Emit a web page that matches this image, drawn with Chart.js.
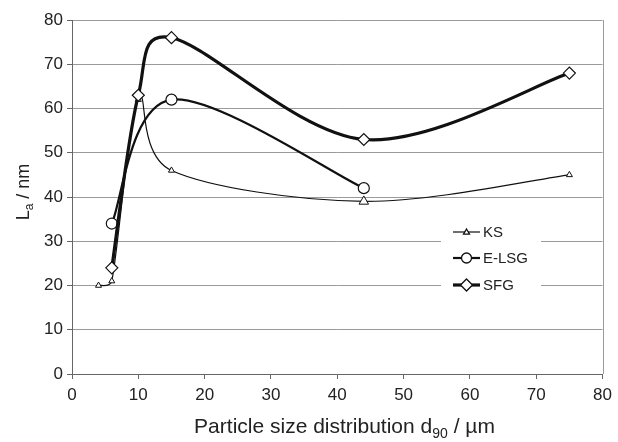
<!DOCTYPE html>
<html><head><meta charset="utf-8">
<script src="https://cdn.jsdelivr.net/npm/chart.js@4/dist/chart.umd.min.js"></script>
<style>html,body{margin:0;padding:0;background:#fff}#wrap{width:618px;height:442px;position:relative}</style>
</head><body><div id="wrap"><canvas id="c" width="618" height="442"></canvas></div>
<script>
const seriesNames = ['KS', 'E-LSG', 'SFG'];
const ksX = [4, 6, 10, 15, 44, 75];
const ksY = [20, 21, 62, 46, 39, 45];
const elsgX = [6, 15, 44];
const elsgY = [34, 62, 42];
const sfgX = [6, 10, 15, 44, 75];
const sfgY = [24, 63, 76, 53, 68];
const xTicks = [0, 10, 20, 30, 40, 50, 60, 70, 80];
const yTicks = [0, 10, 20, 30, 40, 50, 60, 70, 80];
const xTitleMain = 'Particle size distribution d', xTitleSub = '90', xTitleEnd = ' / µm';
const yTitleMain = 'L', yTitleSub = 'a', yTitleEnd = ' / nm';

const FONT = '"Liberation Sans", Arial, sans-serif';
const pts = (xs, ys) => xs.map((x, i) => ({x, y: ys[i]}));

const excelSmooth = {
  id: 'excelSmooth',
  beforeDatasetDraw(chart, args) {
    const meta = args.meta, line = meta.dataset;
    line.updateControlPoints(chart.chartArea, 'x');
    const p = meta.data;
    const cap = (dx, dy, lim) => {
      const l = Math.hypot(dx, dy);
      return l > lim && l > 0 ? [dx * lim / l, dy * lim / l] : [dx, dy];
    };
    for (let i = 0; i < p.length; i++) {
      const c = p[i], pr = p[i - 1] || c, nx = p[i + 1] || c;
      const dx = (nx.x - pr.x) / 6, dy = (nx.y - pr.y) / 6;
      const lPrev = Math.hypot(c.x - pr.x, c.y - pr.y), lNext = Math.hypot(nx.x - c.x, nx.y - c.y);
      const a = cap(dx, dy, 0.5 * lPrev), b = cap(dx, dy, 0.5 * lNext);
      c.cp1x = c.x - a[0]; c.cp1y = c.y - a[1];
      c.cp2x = c.x + b[0]; c.cp2y = c.y + b[1];
    }
  }
};

const frame = {
  id: 'frame',
  beforeDatasetsDraw(chart) {
    const {ctx, chartArea: a} = chart;
    ctx.save();
    ctx.strokeStyle = '#9a9a9a'; ctx.lineWidth = 1;
    ctx.beginPath(); ctx.moveTo(Math.round(a.right) + 0.5, a.top); ctx.lineTo(Math.round(a.right) + 0.5, a.bottom); ctx.stroke();
    ctx.restore();
  },
  afterDraw(chart) {
    const {ctx, chartArea: a} = chart;
    ctx.save();
    // legend
    const lx = 441, ly = 218, lw = 100, lh = 82;
    ctx.fillStyle = '#fff'; ctx.fillRect(lx, ly, lw, lh);
    const rows = [232, 258, 285];
    chart.data.datasets.forEach((ds, i) => {
      const y = rows[i];
      ctx.strokeStyle = '#111'; ctx.lineWidth = ds.borderWidth;
      ctx.beginPath(); ctx.moveTo(453, y); ctx.lineTo(480, y); ctx.stroke();
      const r = ds.legendRadius;
      ctx.fillStyle = '#fff'; ctx.lineWidth = 1.3;
      ctx.beginPath();
      if (ds.pointStyle === 'circle') { ctx.arc(466.5, y, r, 0, Math.PI * 2); }
      else if (ds.pointStyle === 'rectRot') { ctx.moveTo(466.5, y - r); ctx.lineTo(466.5 + r, y); ctx.lineTo(466.5, y + r); ctx.lineTo(466.5 - r, y); ctx.closePath(); }
      else { ctx.moveTo(466.5, y - r); ctx.lineTo(466.5 + r, y + r * 0.7); ctx.lineTo(466.5 - r, y + r * 0.7); ctx.closePath(); }
      ctx.fill(); ctx.stroke();
      ctx.fillStyle = '#222'; ctx.font = '15px ' + FONT; ctx.textBaseline = 'middle'; ctx.textAlign = 'left';
      ctx.fillText(ds.label, 483, y + 1);
    });
    // x title
    ctx.fillStyle = '#222'; ctx.textBaseline = 'alphabetic'; ctx.textAlign = 'left';
    let big = '21px ' + FONT, small = '14px ' + FONT;
    ctx.font = big; const w1 = ctx.measureText(xTitleMain).width, w3 = ctx.measureText(xTitleEnd).width;
    ctx.font = small; const w2 = ctx.measureText(xTitleSub).width;
    let x0 = 344.5 - (w1 + w2 + w3) / 2;
    const by = 433;
    ctx.font = big; ctx.fillText(xTitleMain, x0, by);
    ctx.font = small; ctx.fillText(xTitleSub, x0 + w1, by + 5);
    ctx.font = big; ctx.fillText(xTitleEnd, x0 + w1 + w2, by);
    // y title
    big = '18px ' + FONT; small = '12px ' + FONT;
    ctx.translate(29, 192); ctx.rotate(-Math.PI / 2);
    ctx.font = big; const v1 = ctx.measureText(yTitleMain).width, v3 = ctx.measureText(yTitleEnd).width;
    ctx.font = small; const v2 = ctx.measureText(yTitleSub).width;
    let y0 = -(v1 + v2 + v3) / 2;
    ctx.font = big; ctx.fillText(yTitleMain, y0, 0);
    ctx.font = small; ctx.fillText(yTitleSub, y0 + v1, 4);
    ctx.font = big; ctx.fillText(yTitleEnd, y0 + v1 + v2, 0);
    ctx.restore();
  }
};

new Chart(document.getElementById('c'), {
  type: 'scatter',
  data: {
    datasets: [
      {label: seriesNames[0], data: pts(ksX, ksY), showLine: true, borderColor: '#111', borderWidth: 1.2,
       pointStyle: 'triangle', pointRadius: [3.5, 3.5, 3.5, 3.5, 5.5, 3.5], pointBackgroundColor: '#fff', pointBorderColor: '#111', pointBorderWidth: 1,
       tension: 0.4, order: 2, legendRadius: 3},
      {label: seriesNames[1], data: pts(elsgX, elsgY), showLine: true, borderColor: '#111', borderWidth: 2.2,
       pointStyle: 'circle', pointRadius: 5.5, pointBackgroundColor: '#fff', pointBorderColor: '#111', pointBorderWidth: 1.2,
       tension: 0.4, order: 1, legendRadius: 5},
      {label: seriesNames[2], data: pts(sfgX, sfgY), showLine: true, borderColor: '#111', borderWidth: 3.2,
       pointStyle: 'rectRot', pointRadius: 6, pointBackgroundColor: '#fff', pointBorderColor: '#111', pointBorderWidth: 1.2,
       tension: 0.4, order: 0, legendRadius: 6}
    ]
  },
  options: {
    responsive: false, animation: false, devicePixelRatio: 1,
    layout: {padding: {top: 20, right: 14, left: 0, bottom: 0}},
    plugins: {legend: {display: false}, tooltip: {enabled: false}},
    scales: {
      x: {type: 'linear', min: 0, max: 80,
          afterBuildTicks: s => { s.ticks = xTicks.map(v => ({value: v})); },
          afterFit: s => { s.height = 68; },
          grid: {drawOnChartArea: false, drawTicks: true, tickLength: 5, color: '#666'},
          border: {color: '#666', width: 1},
          ticks: {color: '#222', font: {size: 17, family: FONT}, padding: 6, maxRotation: 0}},
      y: {type: 'linear', min: 0, max: 80,
          afterBuildTicks: s => { s.ticks = yTicks.map(v => ({value: v})); },
          afterFit: s => { s.width = 72; },
          grid: {color: '#9a9a9a', drawTicks: true, tickLength: 5, tickColor: '#666'},
          border: {color: '#666', width: 1},
          ticks: {color: '#222', font: {size: 17, family: FONT}, padding: 4}}
    }
  },
  plugins: [excelSmooth, frame]
});
</script></body></html>
